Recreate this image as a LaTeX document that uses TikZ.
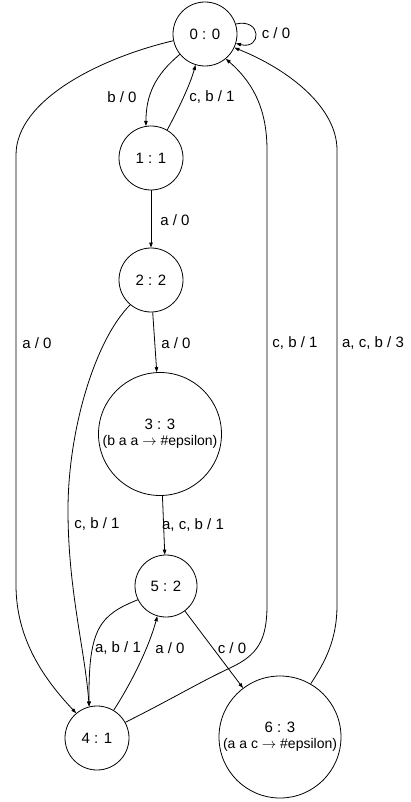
\documentclass[tikz,border=0pt]{standalone}
\usepackage{fontspec}
\setmainfont{Liberation Sans}
\usetikzlibrary{arrows.meta}
\begin{document}
\begin{tikzpicture}[x=1pt,y=-1pt,
  state/.style={circle,draw,line width=0.8pt,inner sep=0pt,font=\fontsize{15}{17}\selectfont,align=center},
  lbl/.style={font=\fontsize{15}{17}\selectfont,inner sep=0pt},
  edge/.style={line width=0.8pt,-{Triangle[length=5pt,width=3.5pt]}}]
\useasboundingbox (0,0) rectangle (410,802);
\node[state,minimum size=64pt] (n0) at (205,34) {0 : 0};
\node[state,minimum size=64pt] (n1) at (151,158) {1 : 1};
\node[state,minimum size=64pt] (n2) at (151,280) {2 : 2};
\node[state,minimum size=123pt] (n3) at (160,434) {3 : 3\\[-1pt]{\fontsize{14}{16}\selectfont(b a a $\rightarrow$ \#epsilon)}};
\node[state,minimum size=62pt] (n5) at (166,586) {5 : 2};
\node[state,minimum size=64pt] (n4) at (97,738) {4 : 1};
\node[state,minimum size=122pt] (n6) at (280,737) {6 : 3\\[-1pt]{\fontsize{14}{16}\selectfont(a a c $\rightarrow$ \#epsilon)}};
% edges
\draw[edge] (n0.18) .. controls (262,18) and (262,50) .. (n0.-17);
\draw[edge] (n0.219) .. controls (155,75) and (146,95) .. (n1.99);
\draw[edge] (n1.60) .. controls (178,110) and (190,85) .. (n0.253);
\draw[edge] (n1.south) -- (n2.north);
\draw[edge] (n2.273) -- (n3.93);
\draw[edge] (n2.230) .. controls (95,340) and (68,430) .. (68,510) .. controls (68,590) and (85,650) .. (n4.104);
\draw[edge] (n3) -- (n5);
\draw[edge] (n5.206) .. controls (100,615) and (88,628) .. (n4.104);
\draw[edge] (n4.59) .. controls (130,685) and (148,650) .. (n5.254);
\draw[edge] (n5) -- (n6);
\draw[edge] (n0.192) .. controls (100,58) and (16,100) .. (16,155) -- (16,585) .. controls (16,640) and (45,680) .. (n4.130);
\draw[edge] (n4.29) .. controls (170,700) and (200,682) .. (230,668) .. controls (258,655) and (267,640) .. (267,605) -- (267,150) .. controls (267,105) and (250,80) .. (n0.310);
\draw[edge] (n6.60) .. controls (325,662) and (337,640) .. (337,605) -- (337,150) .. controls (337,108) and (290,70) .. (n0.335);
% labels
\node[lbl] (l00) at (276,33) {c / 0};
\node[lbl] (l01) at (122,97) {b / 0};
\node[lbl] (l10) at (212,97) {c, b / 1};
\node[lbl] (l12) at (175,220) {a / 0};
\node[lbl] (l23) at (176,343) {a / 0};
\node[lbl] (l04) at (37,343) {a / 0};
\node[lbl] (l40) at (295,343) {c, b / 1};
\node[lbl] (l60) at (373,343) {a, c, b / 3};
\node[lbl] (l24) at (97,524) {c, b / 1};
\node[lbl] (l35) at (193,525) {a, c, b / 1};
\node[lbl] (l54) at (118,648) {a, b / 1};
\node[lbl] (l45) at (170,648) {a / 0};
\node[lbl] (l56) at (232,648) {c / 0};
\end{tikzpicture}
\end{document}
